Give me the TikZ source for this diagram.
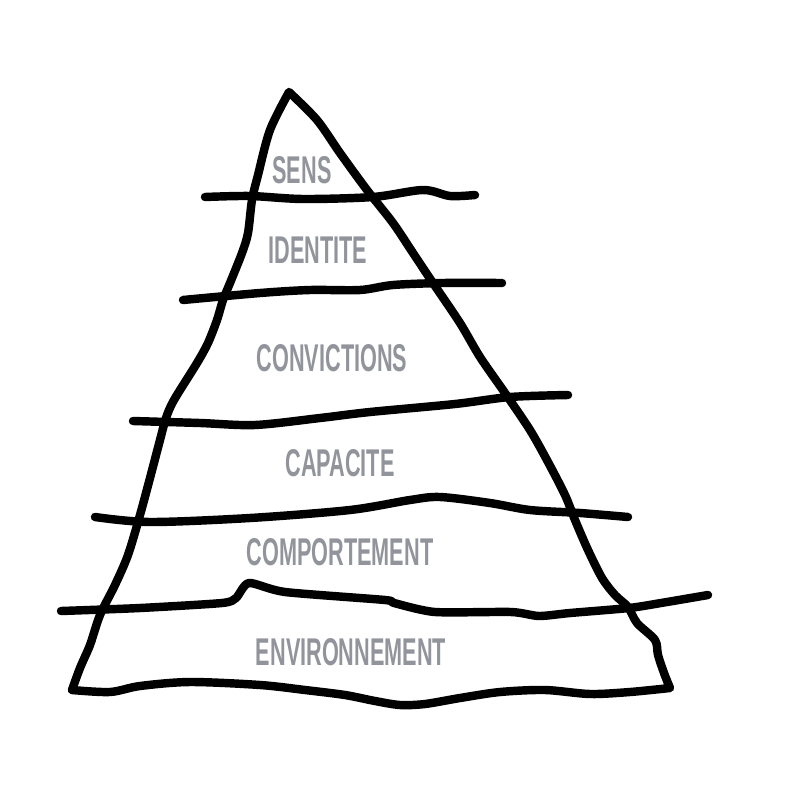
\documentclass[tikz,border=0pt]{standalone}
\usepackage{tikz}
\usepackage{fontspec}
\newfontfamily\levelfont[FakeStretch=0.56]{Liberation Sans}

\begin{document}
\begin{tikzpicture}[x=0.01cm, y=-0.01cm,
    stroke/.style={line width=2.4pt, line cap=round, line join=round},
    level/.style={text=levelgray, font=\levelfont\bfseries\fontsize{11}{13}\selectfont}]
      % Define colors
      \definecolor{levelgray}{RGB}{146,148,156}

      % Canvas
      \useasboundingbox (0,0) rectangle (800,800);

      % Pyramid outline
      \draw[stroke] plot[smooth, tension=0.5] coordinates {(72,690) (80,668) (90,645) (100,615) (115,585) (128,555) (140,515) (150,478) (160,440) (166,418) (174,400) (197,363) (208,343) (217,320) (223,300) (230,283) (242,253) (248,233) (252,200) (258,175) (270,130) (289,92)}
        -- plot[smooth, tension=0.5] coordinates {(289,92) (317,120) (340,153) (367,190) (393,223) (413,253) (433,283) (460,323) (480,357) (505,393) (530,430) (548,462) (565,495) (575,520) (588,550) (602,578) (615,595) (628,607) (637,623) (655,640) (658,655) (664,673) (670,688)}
        -- plot[smooth, tension=0.5] coordinates {(670,688) (630,692) (590,694) (545,690) (500,692) (460,698) (425,704) (400,705) (375,701) (345,695) (305,690) (260,685) (190,682) (140,686) (110,692) (72,690)};

      % Layer lines
      \draw[stroke] plot[smooth, tension=0.5] coordinates {(205,197) (250,196) (303,199) (373,197) (423,190) (450,196) (475,195)};
      \draw[stroke] plot[smooth, tension=0.5] coordinates {(183,300) (260,293) (310,290) (360,290) (393,285) (443,283) (502,283)};
      \draw[stroke] plot[smooth, tension=0.5] coordinates {(133,421) (200,423) (255,425) (320,418) (370,412) (455,404) (510,397) (568,395)};
      \draw[stroke] plot[smooth, tension=0.5] coordinates {(95,517) (150,522) (250,518) (350,510) (410,500) (440,497) (490,503) (530,510) (580,513) (628,517)};
      \draw[stroke] plot[smooth, tension=0.4] coordinates {(61,611) (140,608) (222,603) (236,598) (249,583) (285,592) (385,600) (394,603) (435,612) (511,612) (539,616) (570,613) (629,608) (661,603) (708,595)};

      % Labels
      \node[level] (sens) at (302,170) {SENS};
      \node[level] (identite) at (318,250) {IDENTITE};
      \node[level] (convictions) at (332,358) {CONVICTIONS};
      \node[level] (capacite) at (340,463) {CAPACITE};
      \node[level] (comportement) at (340,552) {COMPORTEMENT};
      \node[level] (environnement) at (351,652) {ENVIRONNEMENT};

    \end{tikzpicture}
\end{document}
